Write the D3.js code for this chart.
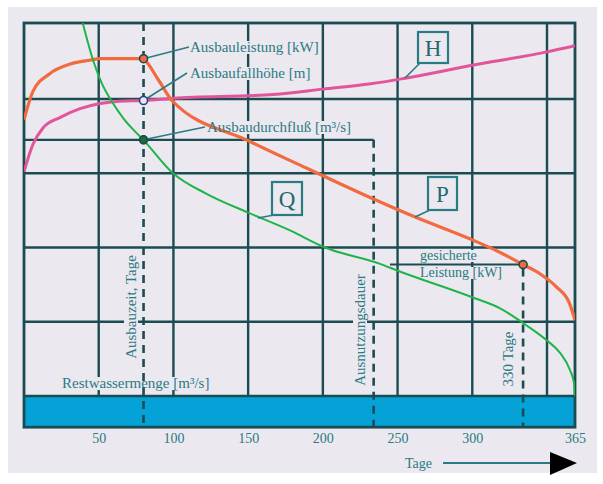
<!DOCTYPE html>
<html><head><meta charset="utf-8">
<script src="https://cdn.jsdelivr.net/npm/d3@7"></script>
<style>
html,body{margin:0;padding:0;background:#fff;}
svg{display:block;}
text{font-family:"Liberation Serif","Times New Roman",serif;}
</style></head><body>
<svg id="chart" width="603" height="484"></svg>
<script>
// ---- data (y in grid units, x in days) ----
const dayTicks = [50, 100, 150, 200, 250, 300, 365];
const gridDays = [50, 100, 150, 200, 250, 300, 350];
const gridLevels = [1, 2, 3, 4];

const qDays   = [39.3, 46.4, 52.0, 58.7, 66.5, 75.4, 79.8, 99.7, 122.5, 150, 178, 201.5, 238.3, 249.7, 299.9, 318.6, 336.4, 349.8, 357, 362.3, 364.5, 365];
const qValues = [5.0, 4.50, 4.21, 3.97, 3.74, 3.54, 3.45, 3.00, 2.72, 2.47, 2.23, 2.00, 1.78, 1.69, 1.33, 1.18, 0.95, 0.75, 0.58, 0.35, 0.17, 0.0];

const pDays   = [0, 6, 17, 31, 44, 51, 78, 80, 90, 99, 151, 189, 232, 263, 298, 319, 334, 345, 355, 362, 365];
const pValues = [3.72, 4.10, 4.33, 4.46, 4.51, 4.53, 4.53, 4.52, 4.25, 3.98, 3.43, 3.07, 2.67, 2.40, 2.12, 1.93, 1.77, 1.65, 1.47, 1.25, 1.02];

const hDays   = [0, 6, 12.7, 24, 37.5, 51, 64, 80, 100, 167, 200, 232, 254, 299, 350, 365];
const hValues = [3.02, 3.39, 3.61, 3.75, 3.87, 3.94, 3.97, 3.98, 4.01, 4.06, 4.13, 4.20, 4.27, 4.44, 4.62, 4.70];

const ausbauDay = 80;        // Ausbauzeit
const ausnutzungDay = 234;   // Ausnutzungsdauer
const sicherDay = 334;       // 330 Tage line
const ausbauP = 4.53, ausbauH = 3.98, ausbauQ = 3.45, sicherP = 1.77;
const restwasser = 0.42;

// ---- styles ----
const BG = "#ece8ef", GRID = "#1b4c52", TXT = "#2a7b83";
const svg = d3.select("#chart");

const x = d3.scaleLinear().domain([0, 350, 365]).range([24, 547, 575]);
const y = d3.scaleLinear().domain([0, 4, 5]).range([396, 99, 23]);

svg.append("rect").attr("x", 8).attr("y", 7).attr("width", 589).attr("height", 466).attr("fill", BG);

const x0 = x(0), x1 = x(365), yTop = y(5), yBase = y(0), yBot = y(-restwasser);

// blue Restwasser band
svg.append("rect").attr("x", x0).attr("y", yBase).attr("width", x1 - x0).attr("height", yBot - yBase)
  .attr("fill", "#05a2d8");

// grid
svg.append("g").selectAll("line").data(gridDays).join("line")
  .attr("x1", d => x(d)).attr("x2", d => x(d)).attr("y1", yTop).attr("y2", yBase)
  .attr("stroke", GRID).attr("stroke-width", 2.4);
svg.append("g").selectAll("line").data(gridLevels).join("line")
  .attr("x1", x0).attr("x2", x1).attr("y1", d => y(d)).attr("y2", d => y(d))
  .attr("stroke", GRID).attr("stroke-width", 2.4);
svg.append("line").attr("x1", x0).attr("x2", x1).attr("y1", yBase).attr("y2", yBase)
  .attr("stroke", GRID).attr("stroke-width", 2.4);
// frame
svg.append("rect").attr("x", x0).attr("y", yTop).attr("width", x1 - x0).attr("height", yBot - yTop)
  .attr("fill", "none").attr("stroke", GRID).attr("stroke-width", 2.8);

// text background layer (under the curves), curve layer, text layer
const bgLayer = svg.append("g");
const ann = svg.append("g");
const curveLayer = svg.append("g");
const txtLayer = svg.append("g");

function label(txt, tx, ty, opts = {}) {
  const t = txtLayer.append("text").attr("x", tx).attr("y", ty).text(txt)
    .attr("fill", TXT).attr("font-size", opts.size || 15);
  if (opts.rotate) {
    t.attr("text-anchor", "middle").attr("dominant-baseline", "central")
     .attr("transform", `rotate(-90,${tx},${ty})`);
  }
  if (opts.bg !== false) {
    const b = t.node().getBBox();
    const r = bgLayer.append("rect").attr("fill", BG);
    if (opts.rotate) {
      r.attr("x", tx - b.height / 2 + 1).attr("y", ty - b.width / 2 - 2)
       .attr("width", b.height - 2).attr("height", b.width + 4);
    } else {
      r.attr("x", b.x - 2).attr("y", b.y + 2).attr("width", b.width + 4).attr("height", b.height - 3);
    }
  }
  return t;
}

// annotation lines
ann.append("line").attr("x1", x0).attr("x2", x(ausnutzungDay)).attr("y1", y(ausbauQ)).attr("y2", y(ausbauQ))
  .attr("stroke", GRID).attr("stroke-width", 2.2);
ann.append("line").attr("x1", x(ausnutzungDay)).attr("x2", x(ausnutzungDay)).attr("y1", y(ausbauQ)).attr("y2", yBot)
  .attr("stroke", GRID).attr("stroke-width", 2.6).attr("stroke-dasharray", "8,6");
ann.append("line").attr("x1", x(ausbauDay)).attr("x2", x(ausbauDay)).attr("y1", yTop).attr("y2", yBot)
  .attr("stroke", GRID).attr("stroke-width", 2.6).attr("stroke-dasharray", "8,6");
ann.append("line").attr("x1", 390).attr("x2", x(sicherDay)).attr("y1", y(sicherP)).attr("y2", y(sicherP))
  .attr("stroke", GRID).attr("stroke-width", 2);
ann.append("line").attr("x1", x(sicherDay)).attr("x2", x(sicherDay)).attr("y1", y(sicherP) + 4).attr("y2", yBot)
  .attr("stroke", GRID).attr("stroke-width", 2.6).attr("stroke-dasharray", "8,6");

// curves
svg.append("clipPath").attr("id", "clip").append("rect")
  .attr("x", x0).attr("y", yTop).attr("width", x1 - x0).attr("height", yBase - yTop);
curveLayer.attr("clip-path", "url(#clip)");
const line = d3.line().x(d => x(d[0])).y(d => y(d[1])).curve(d3.curveMonotoneX);
curveLayer.append("path").datum(d3.zip(hDays, hValues)).attr("d", line)
  .attr("fill", "none").attr("stroke", "#e2559b").attr("stroke-width", 3);
curveLayer.append("path").datum(d3.zip(pDays, pValues)).attr("d", line)
  .attr("fill", "none").attr("stroke", "#f26a40").attr("stroke-width", 3.2);
curveLayer.append("path").datum(d3.zip(qDays, qValues)).attr("d", line)
  .attr("fill", "none").attr("stroke", "#1fb44a").attr("stroke-width", 2);

// leader lines
const lead = svg.append("g").attr("stroke", TXT).attr("stroke-width", 1.6);
lead.append("line").attr("x1", x(ausbauDay)).attr("y1", y(ausbauP)).attr("x2", 189).attr("y2", 47);
lead.append("line").attr("x1", x(ausbauDay)).attr("y1", y(ausbauH)).attr("x2", 187).attr("y2", 73);
lead.append("line").attr("x1", x(ausbauDay)).attr("y1", y(ausbauQ)).attr("x2", 205).attr("y2", 127);

// marker circles
const mk = svg.append("g").attr("stroke", GRID).attr("stroke-width", 1.6);
mk.append("circle").attr("cx", x(ausbauDay)).attr("cy", y(ausbauP)).attr("r", 4).attr("fill", "#f26a40");
mk.append("circle").attr("cx", x(ausbauDay)).attr("cy", y(ausbauH)).attr("r", 4).attr("fill", BG).attr("stroke", "#283f8a");
mk.append("circle").attr("cx", x(ausbauDay)).attr("cy", y(ausbauQ)).attr("r", 4).attr("fill", "#1d6b3a");
mk.append("circle").attr("cx", x(sicherDay)).attr("cy", y(sicherP)).attr("r", 4).attr("fill", "#f26a40");

// labels
label("Ausbauleistung [kW]", 190, 52);
label("Ausbaufallhöhe [m]", 190, 78);
label("Ausbaudurchfluß [m³/s]", 207, 132);
label("Restwassermenge [m³/s]", 62, 388);
label("Ausbauzeit, Tage", 131, 307, {rotate: true});
label("Ausnutzungsdauer", 360, 330, {rotate: true});
label("330 Tage", 508, 359, {rotate: true, bg: false});
label("gesicherte", 420, 260, {size: 14});
label("Leistung [kW]", 420, 277, {size: 14});

// boxed curve names
const boxes = [
  {name: "H", bx: 418, by: 32, w: 30, h: 31, lx: 405, ly: 78},
  {name: "P", bx: 428, by: 177, w: 29, h: 33, lx: 415, ly: 217},
  {name: "Q", bx: 272, by: 182, w: 30, h: 33, lx: 258, ly: 218}
];
const bx = svg.append("g").selectAll("g").data(boxes).join("g");
bx.append("line").attr("x1", d => d.bx + 2).attr("y1", d => d.by + d.h).attr("x2", d => d.lx).attr("y2", d => d.ly)
  .attr("stroke", TXT).attr("stroke-width", 1.6);
bx.append("rect").attr("x", d => d.bx).attr("y", d => d.by).attr("width", d => d.w).attr("height", d => d.h)
  .attr("fill", BG).attr("stroke", TXT).attr("stroke-width", 2.2);
bx.append("text").attr("x", d => d.bx + d.w / 2).attr("y", d => d.by + d.h / 2 + 1)
  .attr("text-anchor", "middle").attr("dominant-baseline", "central")
  .attr("font-size", 23).attr("fill", "#226870").text(d => d.name);

// x axis tick labels
const axis = d3.axisBottom(x).tickValues(dayTicks).tickSize(0).tickPadding(6).tickFormat(d3.format("d"));
const ax = svg.append("g").attr("transform", `translate(0,${yBot})`).call(axis);
ax.select(".domain").remove();
ax.selectAll("text").attr("font-family", "Liberation Serif, serif").attr("font-size", 14).attr("fill", TXT);

// Tage arrow
svg.append("text").attr("x", 405).attr("y", 468).text("Tage").attr("fill", TXT).attr("font-size", 14);
svg.append("line").attr("x1", 443).attr("x2", 552).attr("y1", 463).attr("y2", 463).attr("stroke", TXT).attr("stroke-width", 2);
svg.append("path").attr("d", `M${x(365) - 25},452 L${x(365) + 2},463 L${x(365) - 25},475 Z`).attr("fill", "#000");
</script>
</body></html>
